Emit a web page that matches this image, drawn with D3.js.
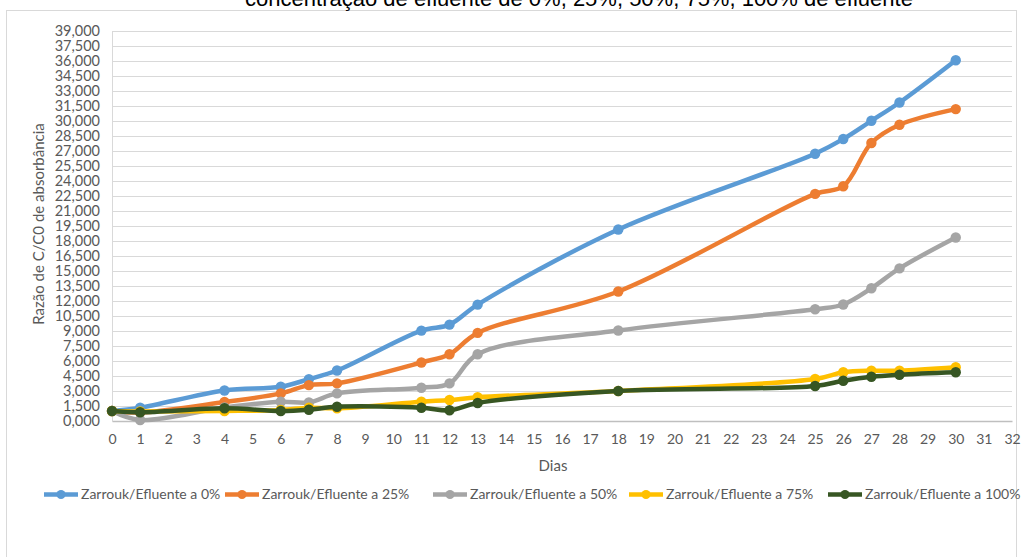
<!DOCTYPE html>
<html>
<head>
<meta charset="utf-8">
<script src="https://cdn.jsdelivr.net/npm/d3@7"></script>
<style>
  html, body { margin: 0; padding: 0; background: #fff; }
  svg { display: block; }
</style>
</head>
<body>
<svg id="chart" width="1022" height="557"></svg>
<script>
// ---- data ----
const titleText = "concentração de efluente de 0%, 25%, 50%, 75%, 100% de efluente";
const yAxisTitle = "Razão de C/C0 de absorbância";
const xAxisTitle = "Dias";
const days = [0, 1, 4, 6, 7, 8, 11, 12, 13, 18, 25, 26, 27, 28, 30];
const seriesNames = ["Zarrouk/Efluente a 0%", "Zarrouk/Efluente a 25%", "Zarrouk/Efluente a 50%", "Zarrouk/Efluente a 75%", "Zarrouk/Efluente a 100%"];
const seriesColors = ["#5B9BD5", "#ED7D31", "#A5A5A5", "#FFC000", "#375623"];
const values0 = [1.00, 1.33, 3.05, 3.42, 4.19, 5.05, 9.04, 9.64, 11.64, 19.15, 26.73, 28.20, 30.02, 31.85, 36.08];
const values25 = [1.00, 0.85, 1.90, 2.76, 3.59, 3.76, 5.85, 6.68, 8.81, 12.95, 22.71, 23.47, 27.80, 29.62, 31.19];
const values50 = [1.00, 0.10, 1.35, 1.93, 1.86, 2.76, 3.33, 3.76, 6.68, 9.05, 11.17, 11.65, 13.27, 15.26, 18.35];
const values75 = [1.00, 0.95, 1.00, 1.10, 1.33, 1.27, 1.93, 2.10, 2.37, 3.00, 4.20, 4.87, 5.03, 5.03, 5.37];
const values100 = [1.00, 0.87, 1.27, 1.00, 1.13, 1.43, 1.33, 1.07, 1.80, 3.00, 3.50, 4.03, 4.43, 4.63, 4.87];
const xTicks = d3.range(0, 33, 1);
const yTicks = d3.range(0, 39.001, 1.5);

const allValues = [values0, values25, values50, values75, values100];
const series = seriesNames.map((name, i) => ({
  name, color: seriesColors[i],
  points: days.map((d, j) => ({ x: d, y: allValues[i][j] }))
}));

// ---- layout ----
const svg = d3.select("#chart");
const font = "Lato, 'Open Sans', sans-serif";
const x = d3.scaleLinear().domain([0, 32]).range([112, 1012]);
const y = d3.scaleLinear().domain([0, 39]).range([421, 31]);
const loc = d3.formatLocale({ decimal: ",", thousands: ".", grouping: [3], currency: ["", ""] });
const fmt = loc.format(".3f");

// chart border
svg.append("rect").attr("x", 6.5).attr("y", 10.5).attr("width", 1010).attr("height", 560)
  .attr("fill", "none").attr("stroke", "#d9d9d9").attr("stroke-width", 1);

// title (partially clipped at top, as in the reference)
svg.append("text").attr("x", 579).attr("y", 6).attr("text-anchor", "middle")
  .attr("font-family", "'Liberation Sans', Arial, sans-serif").attr("font-size", 22)
  .attr("fill", "#000").text(titleText);

// gridlines
svg.append("g").selectAll("line").data(yTicks.filter(t => t > 0)).join("line")
  .attr("x1", x(0)).attr("x2", x(32))
  .attr("y1", d => Math.round(y(d)) + 0.5).attr("y2", d => Math.round(y(d)) + 0.5)
  .attr("stroke", "#d9d9d9").attr("stroke-width", 1);

// y axis
const yAxis = svg.append("g").attr("transform", `translate(${x(0)},0)`)
  .call(d3.axisLeft(y).tickValues(yTicks).tickFormat(fmt).tickSize(0).tickPadding(12));
yAxis.select(".domain").attr("stroke", "#d9d9d9");
yAxis.selectAll("text").attr("font-family", font).attr("font-size", 14.5).attr("fill", "#595959");

// x axis
const xAxis = svg.append("g").attr("transform", `translate(0,${y(0)})`)
  .call(d3.axisBottom(x).tickValues(xTicks).tickFormat(d3.format("d")).tickSize(0).tickPadding(13));
xAxis.select(".domain").attr("stroke", "#bfbfbf").attr("stroke-width", 1.5);
xAxis.selectAll("text").attr("font-family", font).attr("font-size", 14).attr("fill", "#595959");

// axis titles
svg.append("text").attr("transform", "translate(44,224) rotate(-90)").attr("text-anchor", "middle")
  .attr("font-family", font).attr("font-size", 15).attr("fill", "#595959").text(yAxisTitle);
svg.append("text").attr("x", 553).attr("y", 471).attr("text-anchor", "middle")
  .attr("font-family", font).attr("font-size", 15).attr("fill", "#595959").text(xAxisTitle);

// lines
const line = d3.line().x(d => x(d.x)).y(d => y(d.y)).curve(d3.curveCatmullRom.alpha(0.5));
const g = svg.append("g");
series.forEach(s => {
  const sg = g.append("g");
  sg.append("path").attr("d", line(s.points)).attr("fill", "none")
    .attr("stroke", s.color).attr("stroke-width", 4.5).attr("stroke-linejoin", "round").attr("stroke-linecap", "round");
  sg.selectAll("circle").data(s.points).join("circle")
    .attr("cx", d => x(d.x)).attr("cy", d => y(d.y)).attr("r", 5.2).attr("fill", s.color);
});

// legend
const legendX = [44, 225, 433, 629, 828];
const legendY = 494.5;
const lg = svg.append("g");
series.forEach((s, i) => {
  const li = lg.append("g").attr("transform", `translate(${legendX[i]},${legendY})`);
  li.append("line").attr("x1", 0).attr("x2", 34).attr("y1", 0).attr("y2", 0)
    .attr("stroke", s.color).attr("stroke-width", 4.5);
  li.append("circle").attr("cx", 17).attr("cy", 0).attr("r", 4.5).attr("fill", s.color);
  li.append("text").attr("x", 37).attr("y", 0).attr("dy", "0.35em")
    .attr("font-family", font).attr("font-size", 14).attr("fill", "#595959").text(s.name);
});
</script>
</body>
</html>
